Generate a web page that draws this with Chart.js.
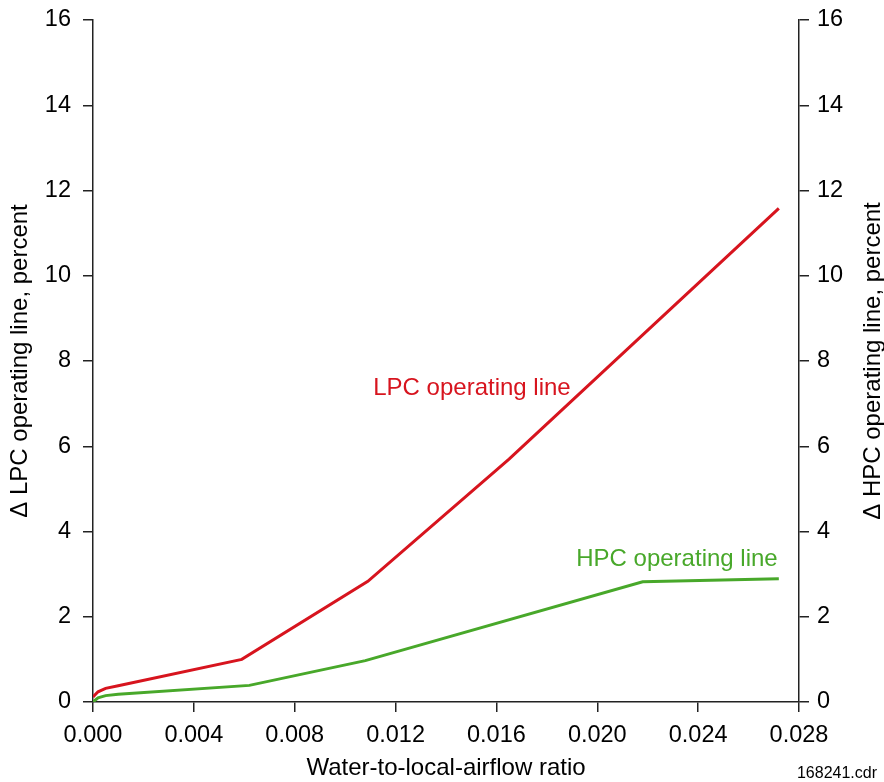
<!DOCTYPE html>
<html>
<head>
<meta charset="utf-8">
<title>LPC / HPC operating line shift</title>
<script src="https://cdn.jsdelivr.net/npm/chart.js@4/dist/chart.umd.min.js"></script>
<style>
  body { margin: 0; background: #fff; }
  #wrap { width: 884px; height: 782px; }
</style>
</head>
<body>
<div id="wrap"><canvas id="js--chart" width="884" height="782"></canvas></div>
<script>
// water-to-local-airflow ratio vs. operating line shift (percent)
const lpcRatio = [0, 0.0002, 0.0005, 0.001, 0.0059, 0.0109, 0.0165, 0.0272];
const lpcShift = [0.12, 0.24, 0.32, 0.38, 1.0, 2.83, 5.7, 11.58];

const hpcRatio = [0, 0.0002, 0.0005, 0.001, 0.0062, 0.0108, 0.0218, 0.0272];
const hpcShift = [0.0, 0.1, 0.15, 0.18, 0.39, 0.97, 2.82, 2.89];

const ratioTicks = [0, 0.004, 0.008, 0.012, 0.016, 0.02, 0.024, 0.028];
const shiftTicks = [0, 2, 4, 6, 8, 10, 12, 14, 16];

const RED = "#d7141e";
const GREEN = "#48a82a";
const FONT = "'Liberation Sans', Arial, sans-serif";

function toPoints(xs, ys) {
  return xs.map(function (x, i) { return { x: x, y: ys[i] }; });
}

// fixed box sizes so the plot area lands where we want it
function fitY(width) {
  return function (s) {
    s.width = width;
    s.paddingTop = 20;
    s.paddingBottom = 0;
  };
}

// labels next to each curve + right axis title + drawing number
const extras = {
  id: "extras",
  beforeDraw(chart) {
    const c = chart.ctx;
    c.save();
    c.fillStyle = "#fff";
    c.fillRect(0, 0, chart.width, chart.height);
    c.restore();
  },
  afterDraw(chart) {
    const c = chart.ctx;
    const xs = chart.scales.x;
    const ys = chart.scales.y;
    c.save();
    c.textAlign = "center";
    c.textBaseline = "middle";
    c.font = "24px " + FONT;
    c.fillStyle = RED;
    c.fillText("LPC operating line", xs.getPixelForValue(0.01503), ys.getPixelForValue(7.35));
    c.fillStyle = GREEN;
    c.fillText("HPC operating line", xs.getPixelForValue(0.02316), ys.getPixelForValue(3.34));

    c.fillStyle = "#000";
    c.font = "24px " + FONT;
    c.translate(873, (chart.chartArea.top + chart.chartArea.bottom) / 2);
    c.rotate(-Math.PI / 2);
    c.fillText("\u0394 HPC operating line, percent", 0, 0);
    c.restore();

    c.save();
    c.font = "16px " + FONT;
    c.fillStyle = "#000";
    c.textAlign = "right";
    c.textBaseline = "middle";
    c.fillText("168241.cdr", 877, 774);
    c.restore();
  }
};

const axisLine = { display: true, color: "#222", width: 1.5 };
const tickGrid = { drawOnChartArea: false, drawTicks: true, tickLength: 10, color: "#222", lineWidth: 1.5 };

const config = {
  type: "line",
  data: {
    datasets: [
      {
        label: "LPC operating line",
        data: toPoints(lpcRatio, lpcShift),
        borderColor: RED,
        borderWidth: 3,
        pointRadius: 0,
        tension: 0,
        yAxisID: "y"
      },
      {
        label: "HPC operating line",
        data: toPoints(hpcRatio, hpcShift),
        borderColor: GREEN,
        borderWidth: 3,
        pointRadius: 0,
        tension: 0,
        yAxisID: "y2"
      }
    ]
  },
  options: {
    responsive: false,
    animation: false,
    layout: { padding: 0 },
    plugins: { legend: { display: false }, tooltip: { enabled: false } },
    scales: {
      x: {
        type: "linear",
        min: 0,
        max: 0.028,
        afterBuildTicks: function (s) { s.ticks = ratioTicks.map(function (v) { return { value: v }; }); },
        afterFit: function (s) { s.height = 80; s.paddingLeft = 0; s.paddingRight = 0; },
        ticks: {
          color: "#000",
          font: { family: FONT, size: 23.5 },
          padding: 9,
          maxRotation: 0,
          callback: function (v) { return v.toFixed(3); }
        },
        grid: tickGrid,
        border: axisLine,
        title: {
          display: true,
          text: "Water-to-local-airflow ratio",
          color: "#000",
          font: { family: FONT, size: 24 },
          padding: { top: 0, bottom: -1 }
        }
      },
      y: {
        position: "left",
        min: 0,
        max: 16,
        afterBuildTicks: function (s) { s.ticks = shiftTicks.map(function (v) { return { value: v }; }); },
        afterFit: fitY(93),
        ticks: { color: "#000", font: { family: FONT, size: 23.5 }, padding: 12 },
        grid: tickGrid,
        border: axisLine,
        title: {
          display: true,
          text: "\u0394 LPC operating line, percent",
          color: "#000",
          font: { family: FONT, size: 24 },
          padding: { top: 6, bottom: 0 }
        }
      },
      y2: {
        position: "right",
        min: 0,
        max: 16,
        afterBuildTicks: function (s) { s.ticks = shiftTicks.map(function (v) { return { value: v }; }); },
        afterFit: fitY(85),
        ticks: { color: "#000", font: { family: FONT, size: 23.5 }, padding: 8 },
        grid: tickGrid,
        border: axisLine
      }
    }
  },
  plugins: [extras]
};

const chart = new Chart(document.getElementById("js--chart"), config);
</script>
</body>
</html>
